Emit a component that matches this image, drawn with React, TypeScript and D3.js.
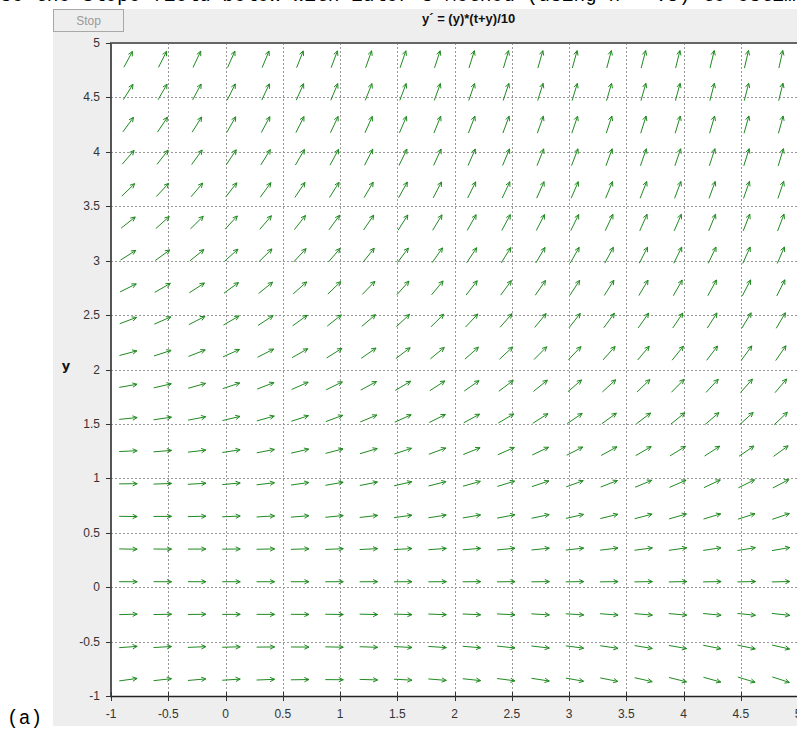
import React, { useEffect, useRef } from 'react';
import * as d3 from 'd3';

// slope field grid (t, y) sample points
const tGrid = [-0.85, -0.55, -0.25, 0.05, 0.35, 0.65, 0.95, 1.25, 1.55, 1.85, 2.15, 2.45, 2.75, 3.05, 3.35, 3.65, 3.95, 4.25, 4.55, 4.85];
const yGrid = [-0.85, -0.55, -0.25, 0.05, 0.35, 0.65, 0.95, 1.25, 1.55, 1.85, 2.15, 2.45, 2.75, 3.05, 3.35, 3.65, 3.95, 4.25, 4.55, 4.85];
const tickValues = [-1, -0.5, 0, 0.5, 1, 1.5, 2, 2.5, 3, 3.5, 4, 4.5, 5];
const gridValues = [-0.5, 0, 0.5, 1, 1.5, 2, 2.5, 3, 3.5, 4, 4.5];

// y' = (y)*(t+y)/10, the equation shown in the title
const slope = (t: number, y: number) => (y * (t + y)) / 10;

const App: React.FC = () => {
    const svgRef = useRef<SVGSVGElement | null>(null);

    useEffect(() => {
        if (!svgRef.current) return;
        const svg = d3.select(svgRef.current);
        svg.selectAll("*").remove();

        const x = d3.scaleLinear().domain([-1, 5]).range([111, 798]);
        const y = d3.scaleLinear().domain([-1, 5]).range([696, 43]);

        // caption text clipped at the top of the page
        svg.append("text")
            .attr("x", -11.7).attr("y", 1)
            .attr("font-family", "Liberation Mono, monospace")
            .attr("font-size", 19.5)
            .attr("fill", "#000")
            .text("Use the Slope field below with Euler's Method (using h = .5) to estimate");

        svg.append("text")
            .attr("x", 7).attr("y", 724)
            .attr("font-family", "Liberation Mono, monospace")
            .attr("font-size", 19.5)
            .attr("fill", "#000")
            .text("(a)");

        // panel
        svg.append("rect")
            .attr("x", 53).attr("y", 9).attr("width", 744).attr("height", 717)
            .attr("fill", "#eeeeee");

        svg.append("rect")
            .attr("x", 53.5).attr("y", 9.5).attr("width", 70).attr("height", 22)
            .attr("fill", "#eeeeee").attr("stroke", "#a8a8a8");
        svg.append("text")
            .attr("x", 88.5).attr("y", 25)
            .attr("text-anchor", "middle")
            .attr("font-family", "Liberation Sans, Arial, sans-serif")
            .attr("font-size", 12)
            .attr("fill", "#9a9a9a")
            .text("Stop");

        svg.append("text")
            .attr("x", 422).attr("y", 23)
            .attr("font-family", "Liberation Sans, Arial, sans-serif")
            .attr("font-size", 13)
            .attr("font-weight", "bold")
            .attr("fill", "#111")
            .text("y´ = (y)*(t+y)/10");

        // plot area
        svg.append("rect")
            .attr("x", 111).attr("y", 43).attr("width", 797 - 111).attr("height", 696 - 43)
            .attr("fill", "#fff");

        const g = svg.append("g");

        g.selectAll(".vgrid")
            .data(gridValues)
            .enter().append("line")
            .attr("x1", d => Math.round(x(d)) + 0.5).attr("x2", d => Math.round(x(d)) + 0.5)
            .attr("y1", 43).attr("y2", 696)
            .attr("stroke", "#999").attr("stroke-dasharray", "2,2");

        g.selectAll(".hgrid")
            .data(gridValues)
            .enter().append("line")
            .attr("y1", d => Math.round(y(d)) + 0.5).attr("y2", d => Math.round(y(d)) + 0.5)
            .attr("x1", 111).attr("x2", 797)
            .attr("stroke", "#999").attr("stroke-dasharray", "2,2");

        // arrows
        const L = 18;
        const head = 5;
        const headAng = 0.45;
        const kx = x(1) - x(0);
        const ky = y(0) - y(1);
        const points = yGrid.flatMap(yv => tGrid.map(tv => ({ t: tv, y: yv })));

        g.selectAll(".arrow")
            .data(points)
            .enter().append("path")
            .attr("fill", "none")
            .attr("stroke", "#1f8a1f")
            .attr("stroke-width", 1)
            .attr("d", d => {
                const m = slope(d.t, d.y);
                const dx = kx;
                const dy = -m * ky;
                const len = Math.hypot(dx, dy);
                const ux = dx / len, uy = dy / len;
                const cx = x(d.t), cy = y(d.y);
                const x0 = cx - ux * L / 2, y0 = cy - uy * L / 2;
                const x1 = cx + ux * L / 2, y1 = cy + uy * L / 2;
                const a = Math.atan2(uy, ux);
                const bx1 = x1 - head * Math.cos(a - headAng), by1 = y1 - head * Math.sin(a - headAng);
                const bx2 = x1 - head * Math.cos(a + headAng), by2 = y1 - head * Math.sin(a + headAng);
                return `M${x0},${y0}L${x1},${y1}M${bx1},${by1}L${x1},${y1}L${bx2},${by2}`;
            });

        // axes
        g.append("line")
            .attr("x1", 111).attr("x2", 111).attr("y1", 43).attr("y2", 697)
            .attr("stroke", "#555").attr("stroke-width", 2);
        g.append("line")
            .attr("x1", 110).attr("x2", 797).attr("y1", 696.5).attr("y2", 696.5)
            .attr("stroke", "#222").attr("stroke-width", 1.5);
        g.append("line")
            .attr("x1", 110).attr("x2", 797).attr("y1", 43).attr("y2", 43)
            .attr("stroke", "#666").attr("stroke-width", 2);

        g.selectAll(".ytick")
            .data(tickValues)
            .enter().append("line")
            .attr("x1", 106).attr("x2", 111)
            .attr("y1", d => Math.round(y(d)) + 0.5).attr("y2", d => Math.round(y(d)) + 0.5)
            .attr("stroke", "#333");
        g.selectAll(".xtick")
            .data(tickValues)
            .enter().append("line")
            .attr("y1", 692).attr("y2", 701)
            .attr("x1", d => Math.round(x(d)) + 0.5).attr("x2", d => Math.round(x(d)) + 0.5)
            .attr("stroke", "#333");

        g.selectAll(".ylabel")
            .data(tickValues)
            .enter().append("text")
            .attr("x", 100)
            .attr("y", d => y(d) + 4)
            .attr("text-anchor", "end")
            .attr("font-family", "Liberation Sans, Arial, sans-serif")
            .attr("font-size", 12)
            .attr("fill", "#333")
            .text(d => String(d));

        g.selectAll(".xlabel")
            .data(tickValues)
            .enter().append("text")
            .attr("x", d => x(d))
            .attr("y", 718)
            .attr("text-anchor", "middle")
            .attr("font-family", "Liberation Sans, Arial, sans-serif")
            .attr("font-size", 12)
            .attr("fill", "#333")
            .text(d => String(d));

        svg.append("text")
            .attr("x", 66).attr("y", 370)
            .attr("text-anchor", "middle")
            .attr("font-family", "DejaVu Sans, sans-serif")
            .attr("font-size", 13)
            .attr("font-weight", "bold")
            .attr("fill", "#111")
            .text("y");
    }, []);

    return (
        <svg
            ref={svgRef}
            width={797}
            height={730}
            style={{ position: 'absolute', left: 0, top: 0, background: '#fff' }}
        />
    );
};

export default App;
